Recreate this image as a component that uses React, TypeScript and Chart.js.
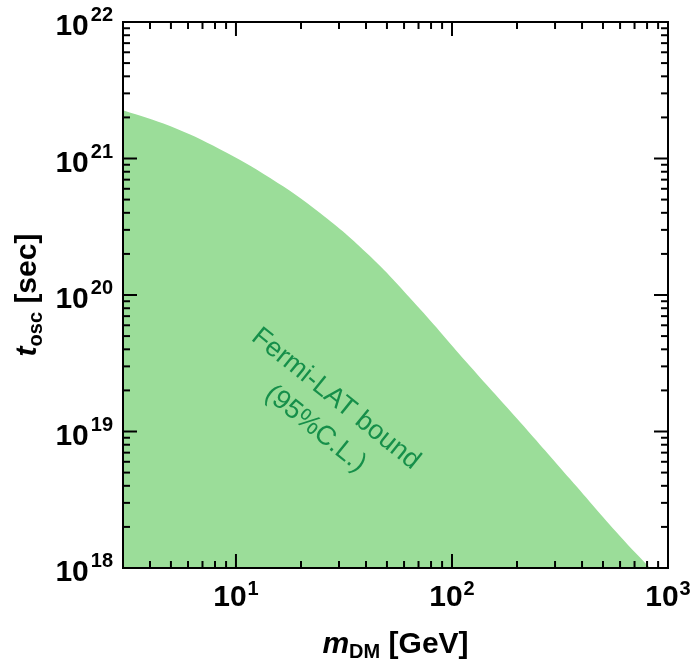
import React, { useEffect, useRef } from 'react';
import { Chart, registerables } from 'chart.js';

Chart.register(...registerables);

// ---- data ----
const massGeV = [3.0, 4.95, 8.43, 14.4, 24.5, 41.7, 71.1, 121, 207, 352, 600, 826];
const tOscSec = [2.26e21, 1.73e21, 1.17e21, 7.19e20, 3.99e20, 1.93e20, 7.9e19, 3.02e19, 1.17e19, 4.49e18, 1.71e18, 1.0e18];

const xMin = 3;
const xMax = 1000;
const yMin = 1e18;
const yMax = 1e22;

const xMajorTicks = [10, 100, 1000];
const xTickExponents = ['1', '2', '3'];
const yMajorTicks = [1e18, 1e19, 1e20, 1e21, 1e22];
const yTickExponents = ['18', '19', '20', '21', '22'];

const boundLines = ['Fermi-LAT bound', '(95%C.L.)'];
const boundAnchorMass = 29;
const boundAnchorTime = 1.73e19;

const FILL = 'rgb(155,221,153)';
const TEXT_GREEN = 'rgb(22,143,74)';
const FONT = "'Liberation Sans', Arial, Helvetica, sans-serif";

function minorValues(min: number, max: number): number[] {
  const out: number[] = [];
  const d0 = Math.floor(Math.log10(min));
  const d1 = Math.ceil(Math.log10(max));
  for (let d = d0; d <= d1; d++) {
    for (let k = 2; k <= 9; k++) {
      const v = k * Math.pow(10, d);
      if (v >= min * 0.9999 && v <= max * 1.0001) out.push(v);
    }
  }
  return out;
}

const framePlugin = {
  id: 'framePlugin',
  afterDatasetsDraw(chart: any) {
    const { ctx, chartArea: a, scales } = chart;
    const xs = scales.x;
    const ys = scales.y;
    ctx.save();

    // annotation
    {
      const px = xs.getPixelForValue(boundAnchorMass);
      const py = ys.getPixelForValue(boundAnchorTime);
      ctx.save();
      ctx.translate(px, py);
      ctx.rotate((39 * Math.PI) / 180);
      ctx.fillStyle = TEXT_GREEN;
      ctx.font = `27px ${FONT}`;
      ctx.textAlign = 'center';
      ctx.textBaseline = 'middle';
      ctx.fillText(boundLines[0], 0, 0);
      ctx.fillText(boundLines[1], 3, 36);
      ctx.restore();
    }

    ctx.strokeStyle = '#000';
    ctx.lineWidth = 2;
    const line = (x1: number, y1: number, x2: number, y2: number) => {
      ctx.beginPath();
      ctx.moveTo(x1, y1);
      ctx.lineTo(x2, y2);
      ctx.stroke();
    };
    const MAJ = 14;
    const MIN = 7;
    xMajorTicks.forEach((v) => {
      const p = xs.getPixelForValue(v);
      line(p, a.bottom, p, a.bottom - MAJ);
      line(p, a.top, p, a.top + MAJ);
    });
    minorValues(xMin, xMax).forEach((v) => {
      const p = xs.getPixelForValue(v);
      line(p, a.bottom, p, a.bottom - MIN);
      line(p, a.top, p, a.top + MIN);
    });
    yMajorTicks.forEach((v) => {
      const p = ys.getPixelForValue(v);
      line(a.left, p, a.left + MAJ, p);
      line(a.right, p, a.right - MAJ, p);
    });
    minorValues(yMin, yMax).forEach((v) => {
      const p = ys.getPixelForValue(v);
      line(a.left, p, a.left + MIN, p);
      line(a.right, p, a.right - MIN, p);
    });
    ctx.strokeRect(a.left, a.top, a.right - a.left, a.bottom - a.top);

    // tick labels
    const bigFont = `bold 30px ${FONT}`;
    const supFont = `bold 20px ${FONT}`;
    ctx.fillStyle = '#000';
    ctx.textBaseline = 'alphabetic';
    ctx.textAlign = 'left';
    xMajorTicks.forEach((v, i) => {
      const p = xs.getPixelForValue(v);
      ctx.font = bigFont;
      const w1 = ctx.measureText('10').width;
      ctx.font = supFont;
      const w2 = ctx.measureText(xTickExponents[i]).width;
      const start = p - (w1 + 1 + w2) / 2;
      ctx.font = bigFont;
      ctx.fillText('10', start, a.bottom + 38);
      ctx.font = supFont;
      ctx.fillText(xTickExponents[i], start + w1 + 1, a.bottom + 27);
    });
    yMajorTicks.forEach((v, i) => {
      const p = ys.getPixelForValue(v);
      const right = a.left - 10;
      ctx.font = supFont;
      const w2 = ctx.measureText(yTickExponents[i]).width;
      ctx.font = bigFont;
      const w1 = ctx.measureText('10').width;
      ctx.fillText('10', right - w2 - 2 - w1, p + 13);
      ctx.font = supFont;
      ctx.fillText(yTickExponents[i], right - w2, p - 1);
    });

    // axis titles
    const drawTitle = (main: string, sub: string, rest: string, cx: number, base: number, subShift: number) => {
      const f1 = `italic bold 30px ${FONT}`;
      const f2 = `bold 20px ${FONT}`;
      const f3 = `bold 30px ${FONT}`;
      ctx.font = f1;
      const w1 = ctx.measureText(main).width;
      ctx.font = f2;
      const w2 = ctx.measureText(sub).width;
      ctx.font = f3;
      const w3 = ctx.measureText(rest).width;
      let x = cx - (w1 + w2 + w3) / 2;
      ctx.font = f1;
      ctx.fillText(main, x, base);
      x += w1;
      ctx.font = f2;
      ctx.fillText(sub, x, base + subShift);
      x += w2;
      ctx.font = f3;
      ctx.fillText(rest, x, base);
    };
    drawTitle('m', 'DM', ' [GeV]', (a.left + a.right) / 2, a.bottom + 85, 5);
    ctx.save();
    ctx.translate(36, (a.top + a.bottom) / 2);
    ctx.rotate(-Math.PI / 2);
    drawTitle('t', 'osc', ' [sec]', 0, 0, 6);
    ctx.restore();

    ctx.restore();
  },
};

export default function App() {
  const canvasRef = useRef<HTMLCanvasElement | null>(null);

  useEffect(() => {
    document.body.style.margin = '0';
    const canvas = canvasRef.current;
    if (!canvas) return;
    const chart = new Chart(canvas, {
      type: 'line',
      data: {
        datasets: [
          {
            data: massGeV.map((m, i) => ({ x: m, y: tOscSec[i] })),
            fill: 'start',
            backgroundColor: FILL,
            borderWidth: 0,
            borderColor: FILL,
            pointRadius: 0,
            tension: 0.4,
          },
        ],
      },
      options: {
        responsive: false,
        animation: false,
        devicePixelRatio: 1,
        layout: { padding: { left: 123, right: 26, top: 22, bottom: 95 } },
        plugins: { legend: { display: false }, tooltip: { enabled: false } },
        scales: {
          x: { type: 'logarithmic', min: xMin, max: xMax, display: false },
          y: { type: 'logarithmic', min: yMin, max: yMax, display: false },
        },
      },
      plugins: [framePlugin],
    } as any);
    return () => chart.destroy();
  }, []);

  return (
    <div style={{ position: 'fixed', left: 0, top: 0, width: 694, height: 663, background: '#fff' }}>
      <canvas ref={canvasRef} width={694} height={663} />
    </div>
  );
}
